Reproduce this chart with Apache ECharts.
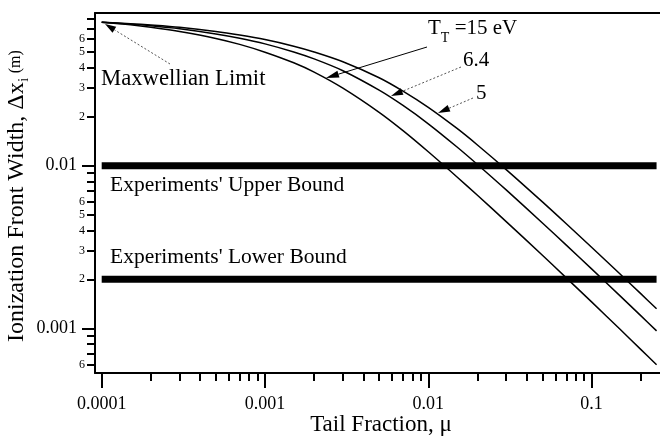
<!DOCTYPE html>
<html>
<head>
<meta charset="utf-8">
<script src="https://cdn.jsdelivr.net/npm/echarts@6/dist/echarts.min.js"></script>
<style>
  html, body { margin: 0; padding: 0; background: #fff; }
  #chart { width: 660px; height: 437px; }
</style>
</head>
<body>
<div id="chart"></div>
<script>
// Tail fraction mu (x) and ionization front width in metres (y) for three tail temperatures
const tailFraction = [0.0001, 0.00015, 0.0002, 0.0003, 0.0005, 0.0007, 0.001, 0.0015, 0.002, 0.003,
  0.005, 0.007, 0.01, 0.015, 0.02, 0.03, 0.05, 0.07, 0.1, 0.15, 0.2, 0.25];
const widthT15 = [0.07621, 0.07348, 0.07099, 0.06679, 0.06064, 0.05572, 0.04990, 0.04294, 0.03762, 0.02998,
  0.02129, 0.01643, 0.01218, 0.008525, 0.006580, 0.004531, 0.002811, 0.002042, 0.001453, 0.000982, 0.000742, 0.000596];
const widthT6_4 = [0.07621, 0.07423, 0.07254, 0.06954, 0.06461, 0.06079, 0.05612, 0.05003, 0.04535, 0.03837,
  0.02914, 0.02346, 0.01810, 0.01303, 0.010173, 0.007095, 0.004443, 0.003248, 0.002320, 0.001576, 0.001196, 0.000964];
const widthT5 = [0.07621, 0.07469, 0.07330, 0.07096, 0.06694, 0.06362, 0.05965, 0.05434, 0.05005, 0.04357,
  0.03475, 0.02875, 0.02284, 0.01694, 0.01341, 0.009462, 0.005988, 0.004394, 0.003151, 0.002148, 0.001633, 0.001319];

// Experimental bounds on the front width
const upperBound = 0.01;
const lowerBound = 0.002;

// Tick labels
const xMajorTicks = [0.0001, 0.001, 0.01, 0.1];
const xMajorLabels = ['0.0001', '0.001', '0.01', '0.1'];
const yMajorTicks = [0.001, 0.01];
const yMajorLabels = ['0.001', '0.01'];
const yMinorLabelled = [0.0006, 0.002, 0.003, 0.004, 0.005, 0.006, 0.02, 0.03, 0.04, 0.05, 0.06];

const FONT = '"Liberation Serif", "Times New Roman", Times, serif';
const lg = Math.log10;

// axis ranges in decades
const X_MIN = -4.041, X_MAX = -0.581;
const Y_MIN = -3.275, Y_MAX = -1.061;

function minorTicks(lo, hi) {
  const out = [];
  for (let d = Math.floor(lo) - 1; d <= Math.ceil(hi); d++) {
    for (let k = 2; k <= 9; k++) {
      const v = lg(k) + d;
      if (v >= lo && v <= hi) out.push(v);
    }
  }
  return out;
}
function nearestLabel(v, ticks, labels) {
  let best = 0;
  ticks.forEach((t, i) => { if (Math.abs(lg(t) - v) < Math.abs(lg(ticks[best]) - v)) best = i; });
  return labels[best];
}
function toLogPairs(ys) { return tailFraction.map((m, i) => [lg(m), lg(ys[i])]); }
function band(v) {
  return [[lg(tailFraction[0]), lg(v)], [lg(tailFraction[tailFraction.length - 1]), lg(v)]];
}

const axisLineStyle = { color: '#000', width: 2 };

const chart = echarts.init(document.getElementById('chart'), null, { renderer: 'canvas' });

// text measurement for chained text pieces
const mctx = document.createElement('canvas').getContext('2d');
function tw(text, size) { mctx.font = size + 'px ' + FONT; return mctx.measureText(text).width; }
const MID = 0.3375; // alphabetic baseline offset from the middle line, in em

function txt(text, x, baseline, size, extra) {
  return Object.assign({
    type: 'text', x: x, y: baseline - MID * size, silent: true,
    style: { text: text, font: size + 'px ' + FONT, fill: '#000',
      align: 'left', textAlign: 'left', verticalAlign: 'middle', textVerticalAlign: 'middle' }
  }, extra || {});
}
function arrow(x1, y1, x2, y2, dashed, len, half) {
  const dx = x2 - x1, dy = y2 - y1, L = Math.hypot(dx, dy), ux = dx / L, uy = dy / L;
  const bx = x2 - ux * len, by = y2 - uy * len, px = -uy, py = ux;
  return [
    { type: 'line', silent: true, shape: { x1: x1, y1: y1, x2: bx, y2: by },
      style: { stroke: dashed ? '#555' : '#000', lineWidth: 1, lineDash: dashed ? [2, 2] : null } },
    { type: 'polygon', silent: true,
      shape: { points: [[x2, y2], [bx + px * half, by + py * half], [bx - px * half, by - py * half]] },
      style: { fill: '#000' } }
  ];
}

// T_T label pieces
const tMainW = tw('T', 21);
const tSubW = tw('T', 14);

// y-axis title pieces
const yTitleMain = 'Ionization Front Width, \u0394x';
const yMainW = tw(yTitleMain, 24);
const ySubW = tw('i', 14);

const graphics = [
  txt('Maxwellian Limit', 101, 87, 22.7),
  txt("Experiments' Upper Bound", 110, 193, 21.5),
  txt("Experiments' Lower Bound", 110, 265, 21.5),
  txt('T', 428, 36, 21),
  txt('T', 428 + tMainW, 43, 14),
  txt(' =15 eV', 428 + tMainW + tSubW, 36, 21),
  txt('6.4', 463, 68, 21),
  txt('5', 476, 101, 21),
  ...arrow(170, 64, 105, 24, true, 11, 3.5),
  ...arrow(427, 47, 326, 78, false, 13, 3.5),
  ...arrow(461, 67, 391, 96, true, 12, 3.5),
  ...arrow(473, 98, 438, 113, true, 12, 3.5),
  // x-axis title
  txt('Tail Fraction, \u03bc', 381 - tw('Tail Fraction, \u03bc', 23) / 2, 433, 23),
  // y-axis title, rotated to read bottom-to-top
  {
    type: 'group', x: 25, y: 342, rotation: Math.PI / 2, silent: true,
    children: [
      txt(yTitleMain, 0, 0, 24),
      txt('i', yMainW + 0.5, 4, 14),
      txt('(m)', yMainW + ySubW + 5, -4, 16)
    ]
  }
];

const curveStyle = { color: '#000', width: 1.5 };

const option = {
  animation: false,
  backgroundColor: '#fff',
  grid: { left: 95, right: 0, top: 13, bottom: 64, containLabel: false },
  xAxis: [
    {
      type: 'value', position: 'bottom', min: X_MIN, max: X_MAX,
      axisLine: { onZero: false, lineStyle: axisLineStyle },
      axisTick: { show: true, length: 15, lineStyle: { color: '#000', width: 2 },
        customValues: xMajorTicks.map(lg) },
      axisLabel: { customValues: xMajorTicks.map(lg), margin: 22,
        formatter: v => nearestLabel(v, xMajorTicks, xMajorLabels),
        fontFamily: FONT, fontSize: 18, color: '#000' },
      splitLine: { show: false }
    },
    {
      type: 'value', position: 'bottom', min: X_MIN, max: X_MAX,
      axisLine: { show: false, onZero: false },
      axisTick: { show: true, length: 8, lineStyle: { color: '#000', width: 2 },
        customValues: minorTicks(X_MIN, X_MAX) },
      axisLabel: { show: false },
      splitLine: { show: false }
    },
    {
      type: 'value', position: 'top', min: X_MIN, max: X_MAX,
      axisLine: { onZero: false, lineStyle: axisLineStyle },
      axisTick: { show: false }, axisLabel: { show: false }, splitLine: { show: false }
    }
  ],
  yAxis: [
    {
      type: 'value', position: 'left', min: Y_MIN, max: Y_MAX,
      axisLine: { onZero: false, lineStyle: axisLineStyle },
      axisTick: { show: true, length: 13, lineStyle: { color: '#000', width: 2 },
        customValues: yMajorTicks.map(lg) },
      axisLabel: { customValues: yMajorTicks.map(lg), margin: 18,
        formatter: v => nearestLabel(v, yMajorTicks, yMajorLabels),
        fontFamily: FONT, fontSize: 18, color: '#000' },
      splitLine: { show: false }
    },
    {
      type: 'value', position: 'left', min: Y_MIN, max: Y_MAX,
      axisLine: { show: false, onZero: false },
      axisTick: { show: true, length: 8, lineStyle: { color: '#000', width: 2 },
        customValues: minorTicks(Y_MIN, Y_MAX) },
      axisLabel: { customValues: yMinorLabelled.map(lg), margin: 10,
        formatter: v => String(Math.round(Math.pow(10, v - Math.floor(v + 1e-9)))),
        fontFamily: FONT, fontSize: 12, color: '#000' },
      splitLine: { show: false }
    }
  ],
  series: [
    { name: 'T_T = 15 eV', type: 'line', data: toLogPairs(widthT15), showSymbol: false,
      smooth: 0.3, lineStyle: curveStyle, z: 3 },
    { name: '6.4 eV', type: 'line', data: toLogPairs(widthT6_4), showSymbol: false,
      smooth: 0.3, lineStyle: curveStyle, z: 3 },
    { name: '5 eV', type: 'line', data: toLogPairs(widthT5), showSymbol: false,
      smooth: 0.3, lineStyle: curveStyle, z: 3 },
    { name: 'Upper bound', type: 'line', data: band(upperBound), showSymbol: false,
      lineStyle: { color: '#000', width: 7, cap: 'butt' }, z: 2 },
    { name: 'Lower bound', type: 'line', data: band(lowerBound), showSymbol: false,
      lineStyle: { color: '#000', width: 7, cap: 'butt' }, z: 2 }
  ],
  graphic: graphics
};

chart.setOption(option);
</script>
</body>
</html>
